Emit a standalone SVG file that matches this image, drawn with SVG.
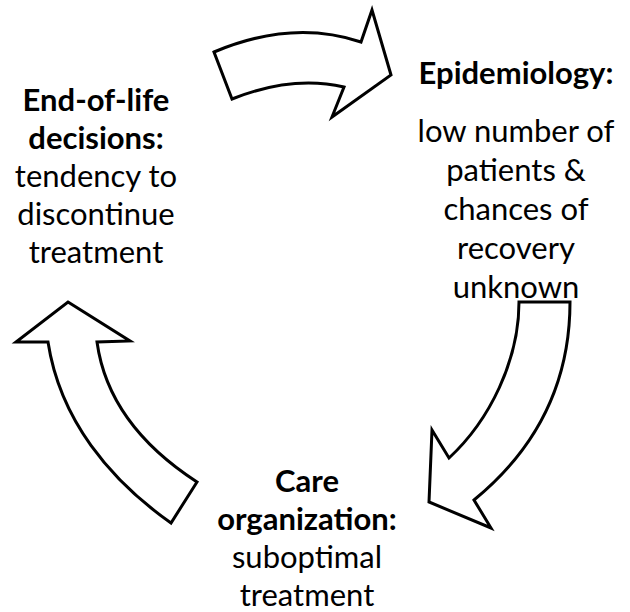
<svg xmlns="http://www.w3.org/2000/svg" width="630" height="612" viewBox="0 0 630 612">
<style>
.arrow{fill:#fff;stroke:#000;stroke-width:3;stroke-linejoin:miter}
text{font-family:Lato,"Open Sans",sans-serif;font-size:31px;fill:#000;text-anchor:middle}
.b{font-weight:bold}
</style>
<rect width="630" height="612" fill="#fff"/>
<g id="connectors">
<path class="arrow" d="M214,52 Q292,19 361,42 L372,10 L391,75 L332,117 L344,87 Q292,75 232,99 Z"/>
<path class="arrow" d="M519,302 L570,302 C570,385 535,450 474,500 L491,528 L429,502 L432,430 L449,458 C490,420 519,360 519,302 Z"/>
<path class="arrow" d="M68,302 L130,341 L97,342 C105,400 140,445 197,482 L171,523 C110,480 60,420 48,342 L16,342 Z"/>
</g>
<g id="node-eol">
<text x="96" y="111" class="b">End-of-life</text>
<text x="96" y="149" class="b">decisions:</text>
<text x="96" y="187">tendency to</text>
<text x="96" y="225">discontinue</text>
<text x="96" y="263">treatment</text>
</g>
<g id="node-epi">
<text x="516" y="84" class="b">Epidemiology:</text>
<text x="516" y="142">low number of</text>
<text x="516" y="181">patients &amp;</text>
<text x="516" y="220">chances of</text>
<text x="516" y="259">recovery</text>
<text x="516" y="298">unknown</text>
</g>
<g id="node-care">
<text x="307" y="492" class="b">Care</text>
<text x="307" y="530" class="b">organization:</text>
<text x="307" y="568">suboptimal</text>
<text x="307" y="606">treatment</text>
</g>
</svg>
